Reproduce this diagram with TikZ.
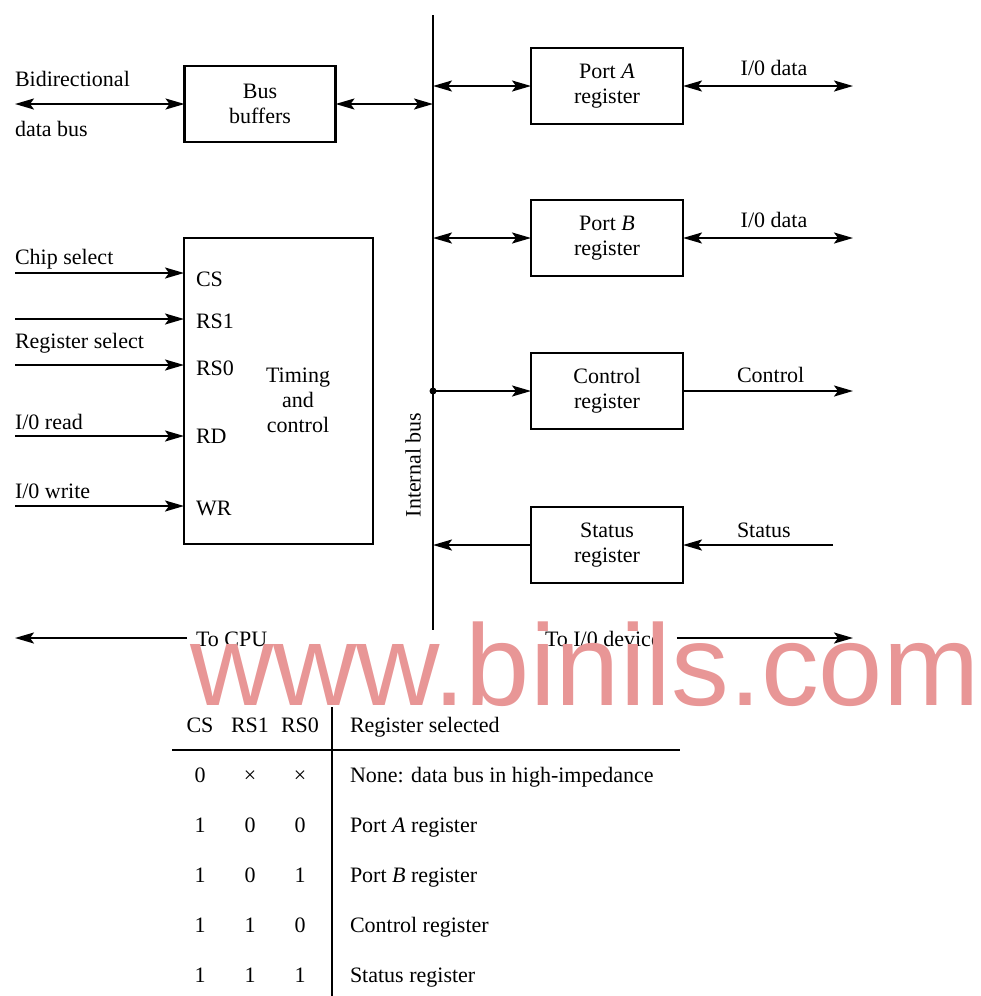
\documentclass[tikz,border=0pt]{standalone}
\usepackage{fontspec}
\setmainfont{Liberation Serif}
\newfontfamily\wmfont{Liberation Sans}
\usetikzlibrary{arrows.meta}
\definecolor{wmpink}{RGB}{232,150,150}
\begin{document}
\begin{tikzpicture}[x=1pt,y=-1pt,
  every node/.style={font=\fontsize{22}{25}\selectfont, inner sep=0pt, outer sep=0pt},
  blk/.style={draw, line width=2.1pt, align=center},
  reg/.style={blk, minimum width=152pt, minimum height=76pt},
  tip/.tip={Stealth[length=19pt,width=11pt,inset=4pt]},
  conn/.style={line width=2.1pt, -tip},
  bidir/.style={line width=2.1pt, tip-tip},
  plain/.style={line width=2.1pt},
  lbl/.style={anchor=base west},
  clbl/.style={anchor=base},
  wm/.style={anchor=base west, text=wmpink, font=\wmfont\fontsize{115.5}{120}\selectfont}
]
\useasboundingbox (0,0) rectangle (980,996);

% internal bus
\coordinate (bustop) at (433,15);
\coordinate (busbot) at (433,630);
\draw[plain] (bustop) -- (busbot);
\node[rotate=90] (busl) at (413,465) {Internal bus};

% bus buffers
\node[blk, minimum width=151pt, minimum height=76pt] (bb) at (260,104) {Bus\\buffers};
\coordinate (dbus) at (15,104);
\draw[bidir] (dbus) -- (bb.west);
\draw[bidir] (bb.east) -- (bb.east -| bustop);
\node[lbl] (bidl) at (15,86) {Bidirectional};
\node[lbl] (dbl) at (15,136) {data bus};

% registers
\node[reg] (pa) at (607,86) {Port \textit{A}\\register};
\node[reg] (pb) at (607,238) {Port \textit{B}\\register};
\node[reg] (cr) at (607,391) {Control\\register};
\node[reg] (sr) at (607,545) {Status\\register};

\draw[bidir] (pa.west -| bustop) -- (pa.west);
\draw[bidir] (pb.west -| bustop) -- (pb.west);
\fill (cr.west -| bustop) circle (3.5pt);
\draw[conn] (cr.west -| bustop) -- (cr.west);
\draw[conn] (sr.west) -- (sr.west -| bustop);

\coordinate (ioa) at (853,86);
\coordinate (iob) at (853,238);
\coordinate (ctlo) at (853,391);
\coordinate (sti) at (833,545);
\draw[bidir] (pa.east) -- (ioa);
\draw[bidir] (pb.east) -- (iob);
\draw[conn] (cr.east) -- (ctlo);
\draw[conn] (sti) -- (sr.east);
\node[clbl] (ioal) at (774,75) {I/0 data};
\node[clbl] (iobl) at (774,227) {I/0 data};
\node[lbl] (ctll) at (737,382) {Control};
\node[lbl] (stl) at (737,537) {Status};

% timing and control
\node[blk, minimum width=189pt, minimum height=306pt] (tim) at (278.5,391) {};
\node[align=center] (timl) at (298,400) {Timing\\and\\control};
\node[lbl] (csp) at (196,286) {CS};
\node[lbl] (rs1p) at (196,328) {RS1};
\node[lbl] (rs0p) at (196,375) {RS0};
\node[lbl] (rdp) at (196,443) {RD};
\node[lbl] (wrp) at (196,515) {WR};

\coordinate (csin) at (15,273);
\coordinate (rs1in) at (15,319);
\coordinate (rs0in) at (15,365);
\coordinate (rdin) at (15,436);
\coordinate (wrin) at (15,506);
\draw[conn] (csin) -- (csin -| tim.west);
\draw[conn] (rs1in) -- (rs1in -| tim.west);
\draw[conn] (rs0in) -- (rs0in -| tim.west);
\draw[conn] (rdin) -- (rdin -| tim.west);
\draw[conn] (wrin) -- (wrin -| tim.west);
\node[lbl] (chipl) at (15,264) {Chip select};
\node[lbl] (regl) at (15,348) {Register select};
\node[lbl] (rdl) at (15,429) {I/0 read};
\node[lbl] (wrl) at (15,498) {I/0 write};

% bottom
\node[lbl] (tocpu) at (196,646) {To CPU};
\node[lbl] (toio) at (545,646) {To I/0 device};
\coordinate (cpuend) at (15,638);
\coordinate (ioend) at (853,638);
\draw[conn] (tocpu.west |- cpuend) ++(-9,0) -- (cpuend);
\draw[conn] (toio.east |- ioend) ++(16,0) -- (ioend);

% table
\coordinate (vt) at (332,707);
\coordinate (vb) at (332,996);
\draw[plain] (vt) -- (vb);
\coordinate (hl) at (172,750);
\coordinate (hr) at (680,750);
\draw[plain] (hl) -- (hr);
\node[clbl] (h1) at (200,732) {CS};
\node[clbl] (h2) at (250,732) {RS1};
\node[clbl] (h3) at (300,732) {RS0};
\node[lbl] (h4) at (350,732) {Register selected};

\node[clbl] (a1) at (200,782) {0};
\node[clbl] (a2) at (250,782) {×};
\node[clbl] (a3) at (300,782) {×};
\node[lbl] (a4) at (350,782) {None: data bus in high-impedance};

\node[clbl] (b1) at (200,832) {1};
\node[clbl] (b2) at (250,832) {0};
\node[clbl] (b3) at (300,832) {0};
\node[lbl] (b4) at (350,832) {Port \textit{A} register};

\node[clbl] (c1) at (200,882) {1};
\node[clbl] (c2) at (250,882) {0};
\node[clbl] (c3) at (300,882) {1};
\node[lbl] (c4) at (350,882) {Port \textit{B} register};

\node[clbl] (d1) at (200,932) {1};
\node[clbl] (d2) at (250,932) {1};
\node[clbl] (d3) at (300,932) {0};
\node[lbl] (d4) at (350,932) {Control register};

\node[clbl] (e1) at (200,982) {1};
\node[clbl] (e2) at (250,982) {1};
\node[clbl] (e3) at (300,982) {1};
\node[lbl] (e4) at (350,982) {Status register};

% watermark
\node[wm] (wmark) at (190,705) {www.binils.com};
\end{tikzpicture}
\end{document}
